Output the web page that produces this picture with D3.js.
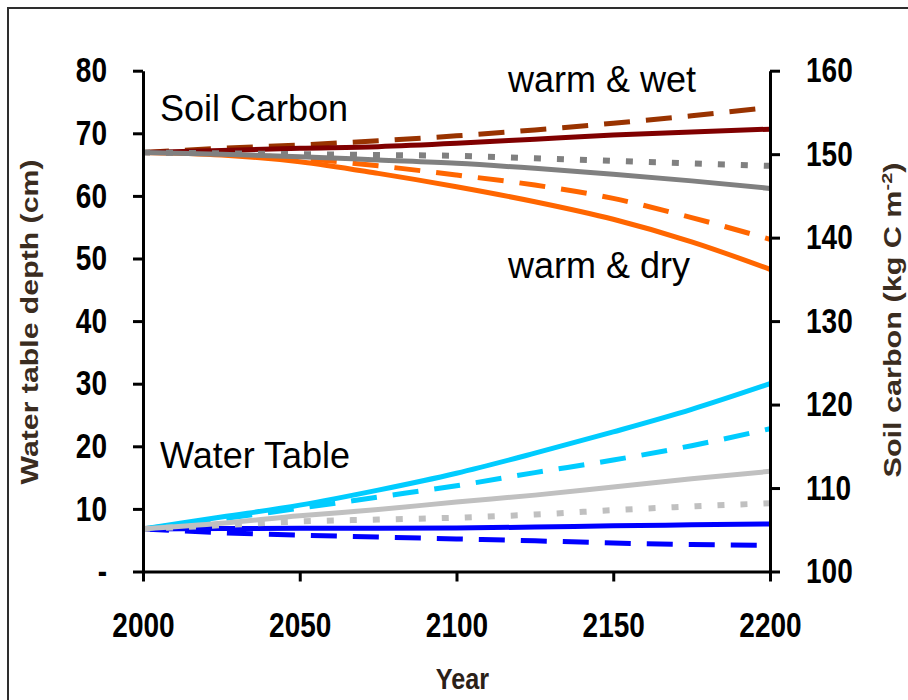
<!DOCTYPE html>
<html>
<head>
<meta charset="utf-8">
<script src="https://cdn.jsdelivr.net/npm/d3@7"></script>
<style>
  body { margin: 0; background: #fff; }
  svg { display: block; }
</style>
</head>
<body>
<div id="chart-area"></div>
<script>
// Data
var years = [2000, 2025, 2050, 2075, 2100, 2125, 2150, 2175, 2200];

// Soil carbon (kg C m-2), right axis
var carbonWetDashed  = [150.2, 150.7, 151.1, 151.6, 152.2, 152.9, 153.7, 154.6, 155.6];
var carbonWetSolid   = [150.2, 150.45, 150.7, 150.9, 151.3, 151.8, 152.3, 152.65, 153.0];
var carbonMidDotted  = [150.2, 150.1, 150.0, 149.9, 149.8, 149.5, 149.2, 148.9, 148.6];
var carbonMidSolid   = [150.2, 150.0, 149.7, 149.3, 148.9, 148.3, 147.6, 146.8, 145.9];
var carbonDryDashed  = [150.2, 150.0, 149.5, 148.6, 147.5, 146.3, 144.7, 142.4, 139.8];
var carbonDrySolid   = [150.2, 149.9, 149.1, 147.7, 146.1, 144.3, 142.2, 139.5, 136.2];

// Water table depth (cm), left axis
var waterCyanSolid   = [6.8, 8.7, 10.6, 13.0, 15.7, 18.9, 22.3, 25.9, 30.0];
var waterCyanDashed  = [6.8, 8.4, 10.1, 11.9, 13.7, 15.8, 17.8, 20.1, 22.8];
var waterGreySolid   = [6.8, 7.7, 8.9, 9.9, 11.1, 12.2, 13.5, 14.8, 16.0];
var waterGreyDotted  = [6.8, 7.4, 8.0, 8.3, 8.6, 9.1, 9.8, 10.4, 10.9];
var waterBlueSolid   = [6.8, 6.85, 6.9, 6.9, 6.95, 7.1, 7.3, 7.45, 7.6];
var waterBlueDashed  = [6.8, 6.2, 5.8, 5.5, 5.2, 4.9, 4.55, 4.3, 4.2];

// Tick values
var xTicks = [2000, 2050, 2100, 2150, 2200];
var leftTicks = [0, 10, 20, 30, 40, 50, 60, 70, 80];
var rightTicks = [100, 110, 120, 130, 140, 150, 160];

var W = 908, H = 700;
var plot = { left: 143, right: 770, top: 70.7, bottom: 571.5 };
var fontFam = "'Liberation Sans', Arial, Helvetica, sans-serif";

var svg = d3.select("#chart-area").append("svg")
    .attr("width", W)
    .attr("height", H);

// outer frame (runs off the right and bottom of the picture)
svg.append("rect")
    .attr("x", 8).attr("y", 8)
    .attr("width", 1000).attr("height", 1000)
    .attr("fill", "none")
    .attr("stroke", "#2e2e2e")
    .attr("stroke-width", 2);

// Scales
var x = d3.scaleLinear().domain([2000, 2200]).range([plot.left, plot.right]);
var yLeft = d3.scaleLinear().domain([0, 80]).range([plot.bottom, plot.top]);
var yRight = d3.scaleLinear().domain([100, 160]).range([plot.bottom, plot.top]);

// squeeze glyphs horizontally, like the stretched original
function squeeze(sel, k) {
    sel.each(function() {
        var w = this.getComputedTextLength();
        this.setAttribute("textLength", w * k);
        this.setAttribute("lengthAdjust", "spacingAndGlyphs");
    });
}

function styleAxis(g) {
    g.attr("font-size", 35)
        .attr("font-family", fontFam)
        .attr("font-weight", "bold");
    g.selectAll("path.domain").attr("stroke", "#000").attr("stroke-width", 3);
    g.selectAll(".tick line").attr("stroke", "#000").attr("stroke-width", 3);
    g.selectAll(".tick text").attr("fill", "#000");
}

// Lines
var series = [
    { v: carbonDryDashed, axis: yRight, color: "#ff6600", dash: "26,16", w: 5 },
    { v: carbonDrySolid,  axis: yRight, color: "#ff6600", dash: null,    w: 5 },
    { v: carbonWetDashed, axis: yRight, color: "#993300", dash: "26,16", w: 5 },
    { v: carbonWetSolid,  axis: yRight, color: "#800000", dash: null,    w: 5 },
    { v: carbonMidDotted, axis: yRight, color: "#808080", dash: "7,16",  w: 6 },
    { v: carbonMidSolid,  axis: yRight, color: "#808080", dash: null,    w: 5 },
    { v: waterBlueDashed, axis: yLeft,  color: "#0000ff", dash: "26,16", w: 5 },
    { v: waterBlueSolid,  axis: yLeft,  color: "#0000ff", dash: null,    w: 5 },
    { v: waterCyanDashed, axis: yLeft,  color: "#00ccff", dash: "26,16", w: 5 },
    { v: waterCyanSolid,  axis: yLeft,  color: "#00ccff", dash: null,    w: 5 },
    { v: waterGreyDotted, axis: yLeft,  color: "#c0c0c0", dash: "7,16",  w: 6 },
    { v: waterGreySolid,  axis: yLeft,  color: "#c0c0c0", dash: null,    w: 5 }
];

series.forEach(function(s) {
    var line = d3.line()
        .x(function(d, i) { return x(years[i]); })
        .y(function(d) { return s.axis(d); })
        .curve(d3.curveMonotoneX);
    svg.append("path")
        .attr("d", line(s.v))
        .attr("fill", "none")
        .attr("stroke", s.color)
        .attr("stroke-width", s.w)
        .attr("stroke-dasharray", s.dash);
});

// Axes
var xAxis = svg.append("g")
    .attr("transform", "translate(0," + plot.bottom + ")")
    .call(d3.axisBottom(x).tickValues(xTicks).tickFormat(d3.format("d"))
        .tickSize(10).tickSizeOuter(0).tickPadding(31));
styleAxis(xAxis);

var leftAxis = svg.append("g")
    .attr("transform", "translate(" + plot.left + ",0)")
    .call(d3.axisLeft(yLeft).tickValues(leftTicks)
        .tickFormat(function(d) { return d === 0 ? "-" : d; })
        .tickSize(10).tickSizeOuter(0).tickPadding(26));
styleAxis(leftAxis);

var rightAxis = svg.append("g")
    .attr("transform", "translate(" + plot.right + ",0)")
    .call(d3.axisRight(yRight).tickValues(rightTicks)
        .tickSize(10).tickSizeOuter(0).tickPadding(26));
styleAxis(rightAxis);

squeeze(svg.selectAll(".tick text"), 0.8);

// Axis titles
var xTitle = svg.append("text")
    .attr("x", (plot.left + plot.right) / 2 + 6)
    .attr("y", 689)
    .attr("text-anchor", "middle")
    .attr("font-family", fontFam)
    .attr("font-weight", "bold")
    .attr("font-size", 30)
    .attr("fill", "#2b2118")
    .text("Year");
squeeze(xTitle, 0.84);

svg.append("text")
    .attr("transform", "rotate(-90)")
    .attr("x", -322)
    .attr("y", 38)
    .attr("text-anchor", "middle")
    .attr("font-family", fontFam)
    .attr("font-weight", "bold")
    .attr("font-size", 23)
    .attr("fill", "#3a2c20")
    .attr("textLength", 325)
    .attr("lengthAdjust", "spacingAndGlyphs")
    .text("Water table depth (cm)");

var rTitle = svg.append("text")
    .attr("transform", "rotate(-90)")
    .attr("x", -320)
    .attr("y", 901)
    .attr("text-anchor", "middle")
    .attr("font-family", fontFam)
    .attr("font-weight", "bold")
    .attr("font-size", 23)
    .attr("fill", "#3a2c20")
    .attr("textLength", 315)
    .attr("lengthAdjust", "spacingAndGlyphs");
rTitle.append("tspan").text("Soil carbon (kg C m");
rTitle.append("tspan").attr("dy", -9).attr("font-size", 15).text("-2");
rTitle.append("tspan").attr("dy", 9).text(")");

// Annotations
var notes = [
    { t: "Soil Carbon", x: 160, y: 121 },
    { t: "warm & wet",  x: 508, y: 92 },
    { t: "warm & dry",  x: 508, y: 278 },
    { t: "Water Table", x: 160, y: 468 }
];
svg.selectAll("text.note")
    .data(notes)
    .enter().append("text")
    .attr("class", "note")
    .attr("x", function(d) { return d.x; })
    .attr("y", function(d) { return d.y; })
    .attr("font-family", fontFam)
    .attr("font-size", 36)
    .attr("fill", "#000")
    .text(function(d) { return d.t; });
</script>
</body>
</html>
